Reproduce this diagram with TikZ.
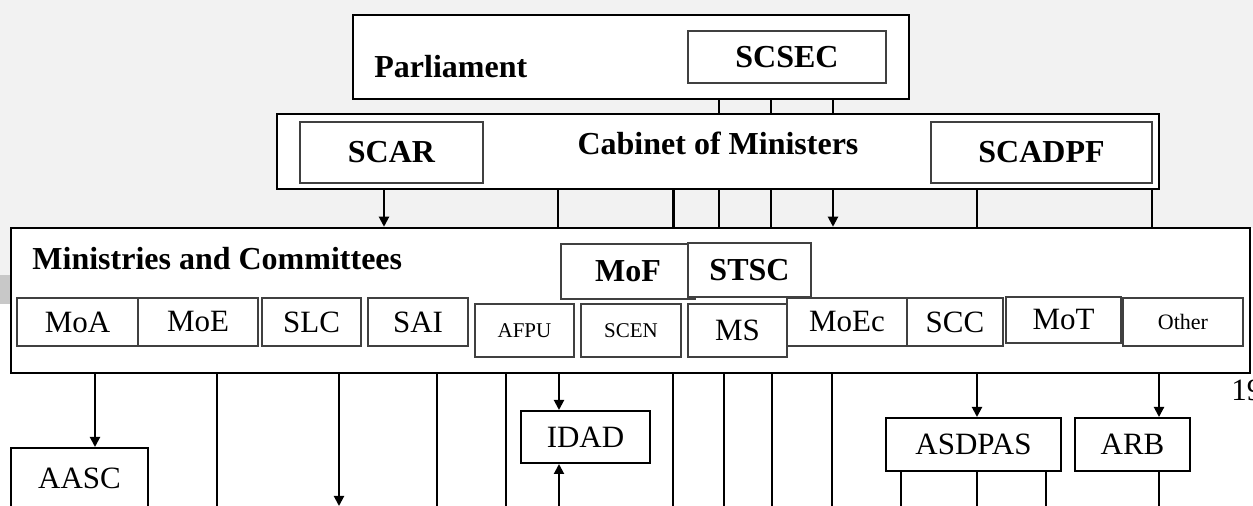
\documentclass[tikz,border=0pt]{standalone}
\usepackage{fontspec}
\setmainfont{Liberation Serif}
\usetikzlibrary{arrows.meta}
\definecolor{paper}{HTML}{F2F2F2}
\definecolor{band}{HTML}{C8C8C8}
\definecolor{rim}{HTML}{404040}

\begin{document}
\begin{tikzpicture}[x=0.5pt,y=-0.5pt,font=\fontsize{15.5}{18}\selectfont]
		\tikzstyle{mainbox}=[draw=black,line width=1.25pt,fill=white,inner sep=0pt]
		\tikzstyle{subbox}=[draw=rim,line width=0.75pt,fill=white,inner sep=0pt]
		\tikzstyle{leafbox}=[draw=black,line width=1pt,fill=white,inner sep=0pt]
		\tikzstyle{headtext}=[inner sep=0pt,font=\fontsize{16}{19}\selectfont\bfseries]
		\tikzstyle{link}=[draw=black,line width=1pt]
		\tikzstyle{arr}=[link,-{Triangle[length=5pt,width=5pt]}]
		
		\useasboundingbox (0,0) rectangle (1253,506);
		\fill[paper] (0,0) rectangle (1253,228);
		\fill[paper] (0,228) rectangle (11,275);
		\fill[band] (0,275) rectangle (11,304);
		
		% three levels
		\node[mainbox,minimum width=278pt,minimum height=42pt] (parl) at (631,57) {};
		\node[mainbox,minimum width=441pt,minimum height=37.5pt] (cab) at (718,151.5) {};
		\node[mainbox,minimum width=619.5pt,minimum height=72.5pt] (min) at (630.5,300.5) {};
		
		\node[headtext,anchor=base west] (parlname) at (374,78) {Parliament};
		\node[headtext,anchor=base] (cabname) at (718,155) {Cabinet of Ministers};
		\node[headtext,anchor=base west] (minname) at (32,270) {Ministries and Committees};
		
		\node[subbox,headtext,draw=rim,minimum width=99pt,minimum height=26pt] (scsec) at (787,57) {SCSEC};
		\node[subbox,headtext,draw=rim,minimum width=91.5pt,minimum height=30.5pt] (scar) at (391.5,152.5) {SCAR};
		\node[subbox,headtext,draw=rim,minimum width=110.5pt,minimum height=30.5pt] (scadpf) at (1041.5,152.5) {SCADPF};
		
		% ministries row
		\node[subbox,headtext,draw=rim,minimum width=67pt,minimum height=27.5pt] (mof) at (628,271.5) {MoF};
		\node[subbox,headtext,draw=rim,minimum width=61.5pt,minimum height=27pt] (stsc) at (749.5,270) {STSC};
		\node[subbox,minimum width=60.5pt,minimum height=24pt] (moa) at (77.5,322) {MoA};
		\node[subbox,minimum width=60pt,minimum height=24pt] (moe) at (198,322) {MoE};
		\node[subbox,minimum width=49.5pt,minimum height=24pt] (slc) at (311.5,322) {SLC};
		\node[subbox,minimum width=50pt,minimum height=24pt] (sai) at (418,322) {SAI};
		\node[subbox,font=\fontsize{10.5}{12}\selectfont,minimum width=49.5pt,minimum height=26.5pt] (afpu) at (524.5,330.5) {AFPU};
		\node[subbox,font=\fontsize{10.5}{12}\selectfont,minimum width=50pt,minimum height=26.5pt] (scen) at (631,330.5) {SCEN};
		\node[subbox,minimum width=49.5pt,minimum height=26.5pt] (ms) at (737.5,330.5) {MS};
		\node[subbox,minimum width=60pt,minimum height=24pt] (moec) at (847,322) {MoEc};
		\node[subbox,minimum width=48pt,minimum height=24pt] (scc) at (955,322) {SCC};
		\node[subbox,minimum width=57.5pt,minimum height=23pt] (mot) at (1063.5,320) {MoT};
		\node[subbox,font=\fontsize{11}{13}\selectfont,minimum width=60pt,minimum height=24pt] (other) at (1183,322) {Other};
		
		% lower units
		\node[leafbox,minimum width=68.5pt,minimum height=30.5pt] (aasc) at (79.5,478.5) {AASC};
		\node[leafbox,minimum width=64.5pt,minimum height=26pt] (idad) at (585.5,437) {IDAD};
		\node[leafbox,minimum width=87.5pt,minimum height=26.5pt] (asdpas) at (973.5,444.5) {ASDPAS};
		\node[leafbox,minimum width=57.5pt,minimum height=26.5pt] (arb) at (1132.5,444.5) {ARB};
		
		\node[inner sep=0pt,anchor=base west] (pagenum) at (1231,401) {19};
		\coordinate (bot) at (0,506);
		
		\path
		(719,0 |- parl.south) edge[link,line width=0.75pt] (719,0 |- cab.north)
		(771,0 |- parl.south) edge[link,line width=0.75pt] (771,0 |- cab.north)
		(833,0 |- parl.south) edge[link,line width=0.75pt] (833,0 |- cab.north);
		
		\path
		(384,0 |- cab.south) edge[arr] (384,0 |- min.north)
		(558,0 |- cab.south) edge[link] (558,0 |- min.north)
		(673,0 |- cab.south) edge[link,line width=1.5pt] (673,0 |- min.north)
		(719,0 |- cab.south) edge[link] (719,0 |- min.north)
		(771,0 |- cab.south) edge[link] (771,0 |- min.north)
		(833,0 |- cab.south) edge[arr] (833,0 |- min.north)
		(977,0 |- cab.south) edge[link] (977,0 |- min.north)
		(1152,0 |- cab.south) edge[link] (1152,0 |- min.north);
		
		\path
		(95,0 |- min.south) edge[arr] (95,0 |- aasc.north)
		(217,0 |- min.south) edge[link] (217,0 |- bot)
		(339,0 |- min.south) edge[arr] (339,0 |- bot)
		(437,0 |- min.south) edge[link] (437,0 |- bot)
		(506,0 |- min.south) edge[link] (506,0 |- bot)
		(559,0 |- min.south) edge[arr] (559,0 |- idad.north)
		(559,0 |- bot) edge[arr] (559,0 |- idad.south)
		(673,0 |- min.south) edge[link] (673,0 |- bot)
		(724,0 |- min.south) edge[link] (724,0 |- bot)
		(772,0 |- min.south) edge[link] (772,0 |- bot)
		(832,0 |- min.south) edge[link] (832,0 |- bot)
		(977,0 |- min.south) edge[arr] (977,0 |- asdpas.north)
		(1159,0 |- min.south) edge[arr] (1159,0 |- arb.north);
		
		\path
		(901,0 |- asdpas.south) edge[link] (901,0 |- bot)
		(977,0 |- asdpas.south) edge[link] (977,0 |- bot)
		(1046,0 |- asdpas.south) edge[link] (1046,0 |- bot)
		(1159,0 |- arb.south) edge[link] (1159,0 |- bot);
		
	\end{tikzpicture}
\end{document}
